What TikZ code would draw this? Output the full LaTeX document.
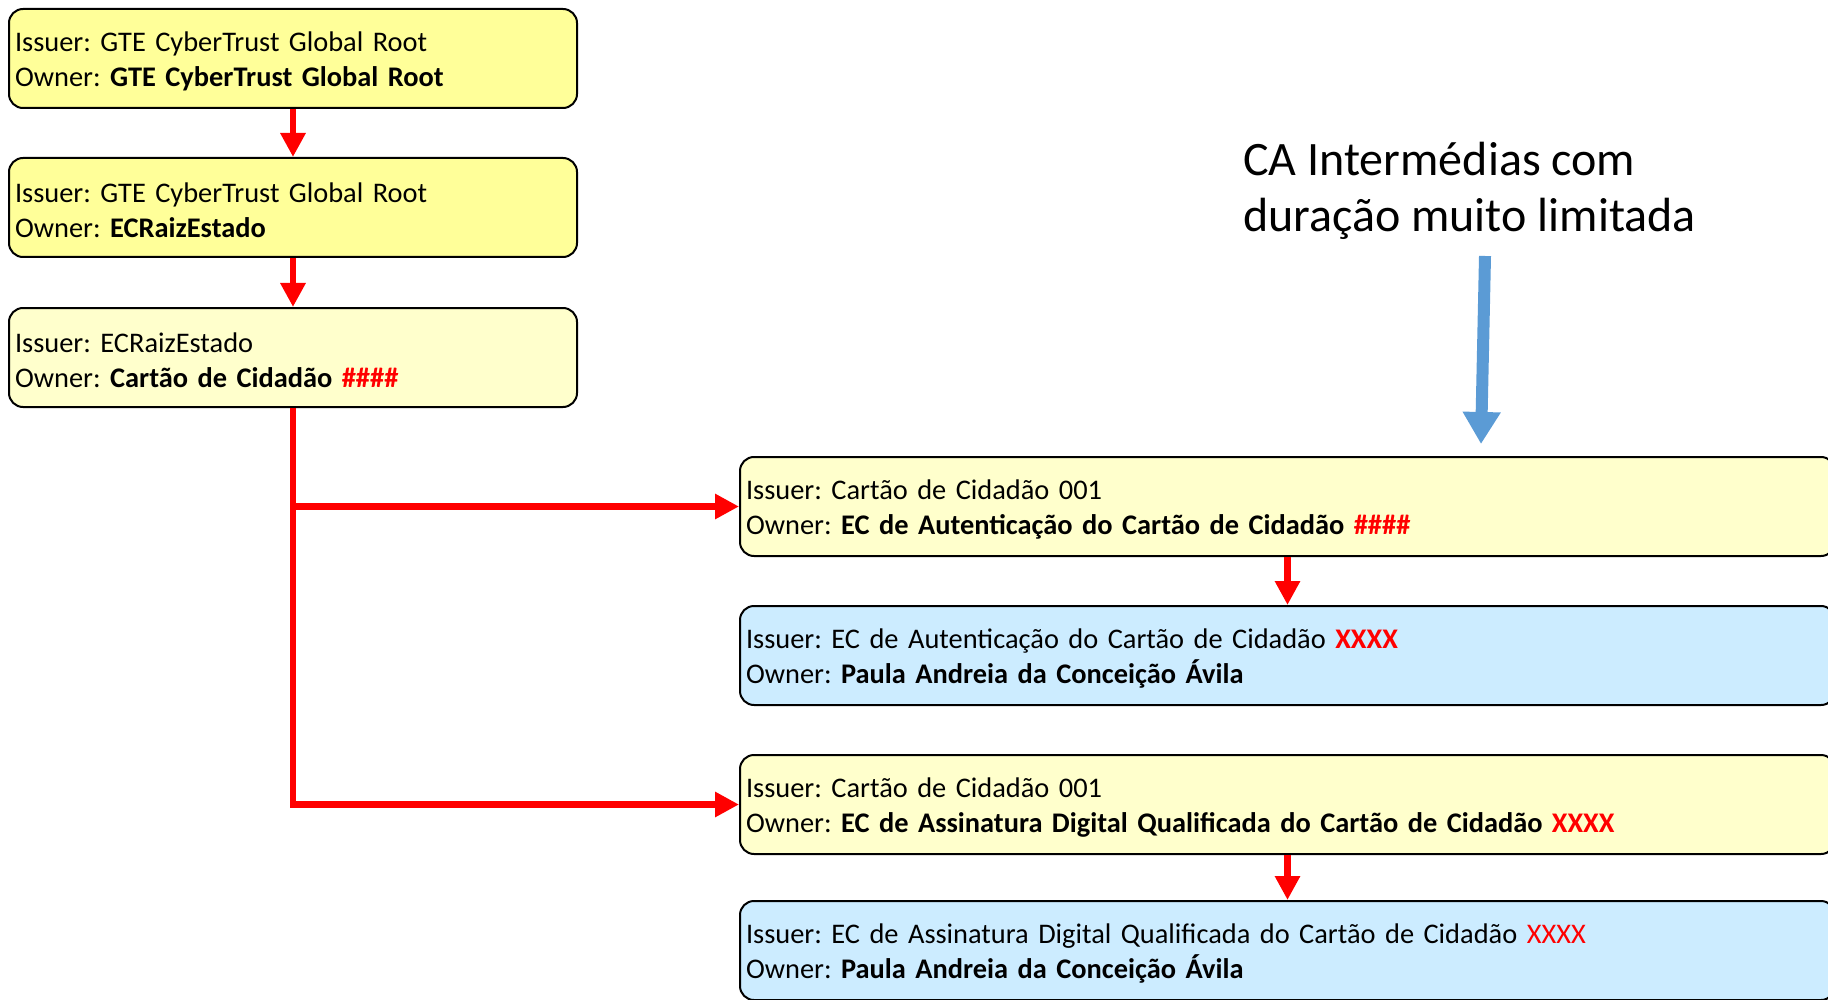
\documentclass[tikz,border=0pt]{standalone}
\usepackage{fontspec}
\setmainfont{Carlito}
\usetikzlibrary{arrows.meta}
\definecolor{rootyellow}{HTML}{FFFF99}
\definecolor{cayellow}{HTML}{FFFFCC}
\definecolor{userblue}{HTML}{CCECFF}
\definecolor{noteblue}{HTML}{5B9BD5}
\tikzstyle{certbox} = [rectangle, rounded corners=14pt, draw=black, line width=2pt, anchor=north west, align=left, inner xsep=5pt, inner ysep=0pt, minimum height=99pt, font=\fontsize{28.4}{35}\selectfont, execute at begin node=\rule{0pt}{25pt}]
\tikzstyle{leftbox} = [certbox, minimum width=568pt, text width=556pt]
\tikzstyle{rightbox} = [certbox, minimum width=1095pt, text width=1083pt]
\tikzstyle{note} = [anchor=west, align=left, inner sep=0pt, font=\fontsize{48}{56}\selectfont]
\tikzstyle{arrow} = [red, line width=6.5pt, -{Triangle[length=24pt,width=24pt]}]
\tikzstyle{notearrow} = [noteblue, line width=12pt, -{Triangle[length=32pt,width=36pt]}]
\newcommand{\hl}[1]{\textcolor{red}{#1}}

\begin{document}
\frenchspacing
\begin{tikzpicture}[x=1pt,y=-1pt]
    \useasboundingbox (0,0) rectangle (1828,1000);
    \node [leftbox, fill=rootyellow] at (8,8) (root) {Issuer: GTE CyberTrust Global Root\\Owner: \textbf{GTE CyberTrust Global Root}};
    \node [leftbox, fill=rootyellow] at (8,157) (raiz) {Issuer: GTE CyberTrust Global Root\\Owner: \textbf{ECRaizEstado}};
    \node [leftbox, fill=cayellow] at (8,307) (cidadao) {Issuer: ECRaizEstado\\Owner: \textbf{Cartão de Cidadão \hl{\#\#\#\#}}};
    \node [rightbox, fill=cayellow] at (739,456) (autent) {Issuer: Cartão de Cidadão 001\\Owner: \textbf{EC de Autenticação do Cartão de Cidadão \hl{\#\#\#\#}}};
    \node [rightbox, fill=userblue] at (739,605) (userA) {Issuer: EC de Autenticação do Cartão de Cidadão \textbf{\hl{XXXX}}\\Owner: \textbf{Paula Andreia da Conceição Ávila}};
    \node [rightbox, fill=cayellow] at (739,754) (assin) {Issuer: Cartão de Cidadão 001\\Owner: \textbf{EC de Assinatura Digital Qualificada do Cartão de Cidadão \hl{XXXX}}};
    \node [rightbox, fill=userblue] at (739,900) (userB) {Issuer: EC de Assinatura Digital Qualificada do Cartão de Cidadão \hl{XXXX}\\Owner: \textbf{Paula Andreia da Conceição Ávila}};
    \node [note] at (1243,191) (nota) {CA Intermédias com\\duração muito limitada};
    \coordinate (notaTail) at (1485,256);
    \coordinate (notaTip) at (1481,444);

    \draw [arrow] (root) -- (raiz);
    \draw [arrow] (raiz) -- (cidadao);
    \draw [arrow] (cidadao.south) |- (autent.west);
    \draw [arrow] (cidadao.south) |- (assin.west);
    \draw [arrow] (autent) -- (userA);
    \draw [arrow] (assin) -- (userB);
    \draw [notearrow] (notaTail) -- (notaTip);
\end{tikzpicture}
\end{document}
